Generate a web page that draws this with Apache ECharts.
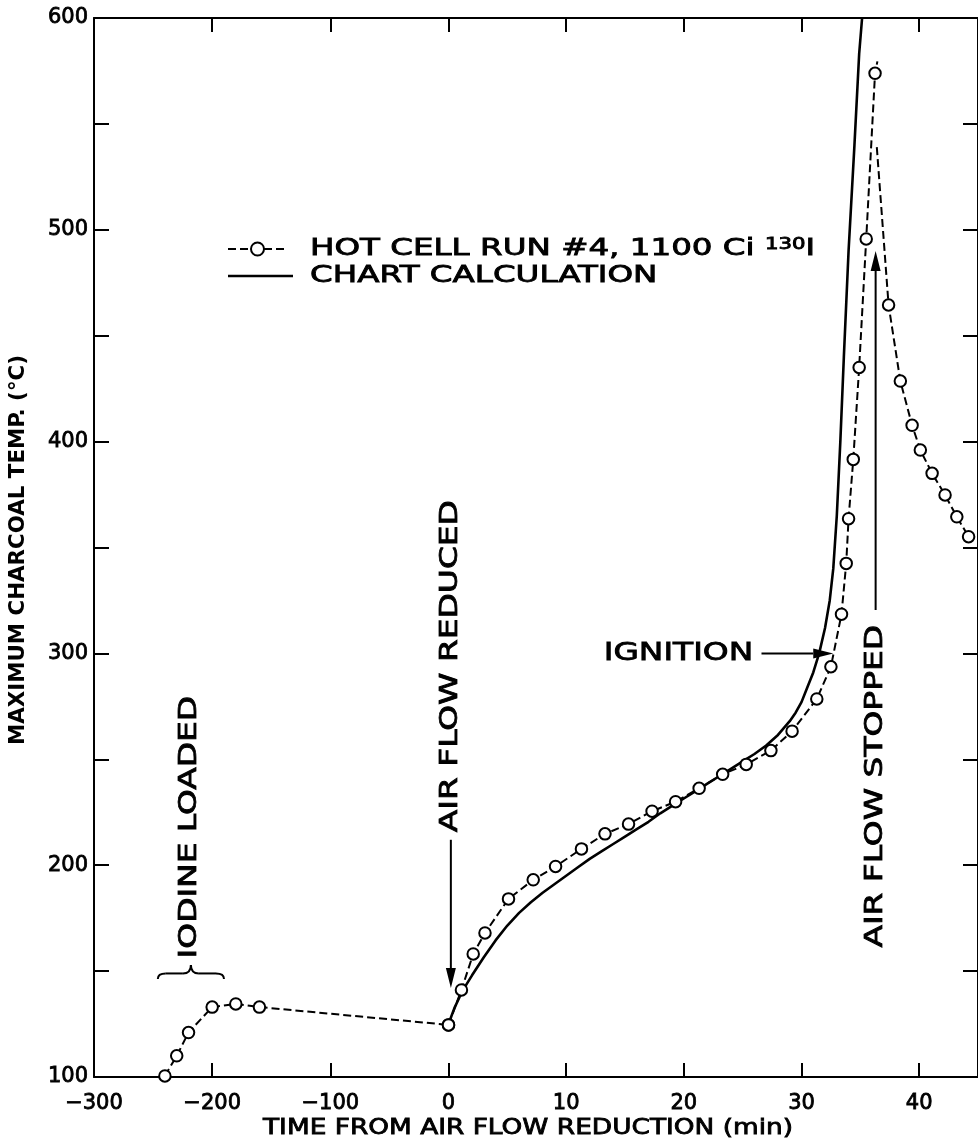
<!DOCTYPE html>
<html lang="en">
<head>
<meta charset="utf-8">
<title>Maximum charcoal temperature vs. time from air flow reduction</title>
<script src="https://cdn.jsdelivr.net/npm/echarts@6/dist/echarts.min.js"></script>
<style>
  html, body { margin: 0; padding: 0; background: #fff; }
  #chart { width: 978px; height: 1145px; }
</style>
</head>
<body>
<div id="chart"></div>
<script>
// ---------------- Data ----------------
// Axis ticks (min). The time axis is split: before the reduction 100 min per
// division, after it 10 min per division.
const preTicks  = [-300, -200, -100, 0];
const postTicks = [0, 10, 20, 30, 40];
const postMax   = 45;
const tempTicks = [100, 200, 300, 400, 500, 600];
const tempStep  = 50;

// Hot cell run #4 — iodine loading and hold before the air flow reduction
const loadTime = [-240, -230, -220, -200, -180, -160, 0];
const loadTemp = [100.5, 110, 121, 133, 134.5, 133, 124.6];

// Hot cell run #4 — after the air flow reduction, up to the peak
// (last entry is the end of the trace above the top circle, no marker)
const runTime = [0, 1.1, 2.1, 3.1, 5.1, 7.2, 9.1, 11.3, 13.3, 15.3, 17.3, 19.3, 21.3,
                 23.3, 25.3, 27.4, 29.2, 31.3, 32.5, 33.4, 33.8, 34.0, 34.4, 34.9, 35.5,
                 36.25, 36.45];
const runTemp = [124.6, 141.1, 158.1, 168.0, 184.1, 193.1, 199.4, 207.7, 214.8, 219.4,
                 225.5, 230.0, 236.3, 242.9, 247.6, 254.1, 263.3, 278.5, 293.7, 318.5,
                 342.5, 363.6, 391.6, 435, 495.7, 573.9, 579.5];

// Hot cell run #4 — cooling after the air flow was stopped
// (first entry is the start of the trace, no marker)
const coolTime = [36.4, 37.4, 38.4, 39.4, 40.1, 41.1, 42.2, 43.2, 44.2];
const coolTemp = [539, 464.5, 428.6, 407.7, 396, 385, 374.8, 364.5, 355.1];

// Chart calculation
const calcTime = [0, 0.5, 1, 1.5, 2, 3, 4, 5, 6, 7, 8, 9, 10, 11, 12, 13, 14, 15, 16, 17,
                  18, 19, 20, 21, 22, 23, 24, 25, 26, 27, 28, 29, 29.5, 30, 30.5, 31, 31.5,
                  32, 32.4, 32.7, 33.0, 33.3, 33.6, 34.0, 34.5, 34.9, 35.15];
const calcTemp = [125, 132.5, 138.5, 143.5, 148, 156.5, 164.5, 171.5, 177.5, 182.5, 187,
                  191, 195, 199, 203, 206.5, 210, 213.5, 217, 220.5, 224.5, 228, 231.5, 235,
                  238.5, 242, 245.5, 249, 252.5, 256.5, 261.5, 268, 272, 277, 284, 291, 300,
                  312, 325, 340, 365, 400, 440, 490, 540, 583, 600];

const runLabel  = 'HOT CELL RUN #4, 1100 Ci ';
const runIsotope = ['130', 'I'];
const calcLabel = 'CHART CALCULATION';

// ---------------- Styles ----------------
const INK = '#000';
const FONT = '"DejaVu Sans", "Liberation Sans", sans-serif';
const FONT_COND = '"DejaVu Sans Condensed", "DejaVu Sans", sans-serif';
const PEN = 0.8;   // extra outline that gives the lettering a medium pen weight

const axisLine = { show: true, onZero: false, lineStyle: { color: INK, width: 2 } };
const tickStyle = { show: true, inside: true, length: 14, lineStyle: { color: INK, width: 2 } };
const noSplit = { show: false };
const labelBase = { color: INK, fontFamily: FONT, fontSize: 21,
                    textBorderColor: INK, textBorderWidth: PEN };
const signed = v => (v < 0 ? '\u2212' + Math.abs(v) : String(v));

const pairs = (xs, ys) => xs.map((x, i) => [x, ys[i]]);
const hotLine = { color: INK, width: 2, type: [8, 4] };
const hotItem = { color: '#fff', borderColor: INK, borderWidth: 2 };
const HOT_SYMBOL = 11.5;

function xAxisFor(grid, pos, ticks, max, showLabels) {
  return {
    gridIndex: grid, type: 'value', position: pos,
    min: ticks[0], max: max, interval: ticks[1] - ticks[0],
    axisLine, axisTick: tickStyle, splitLine: noSplit,
    axisLabel: showLabels
      ? Object.assign({}, labelBase, { margin: 16, formatter: signed,
          showMinLabel: grid === 0, showMaxLabel: grid === 0 })
      : { show: false }
  };
}

function yAxisFor(grid, pos, showLabels) {
  return {
    gridIndex: grid, type: 'value', position: pos,
    min: tempTicks[0], max: tempTicks[tempTicks.length - 1], interval: tempStep,
    axisLine, axisTick: Object.assign({}, tickStyle, { length: 15 }), splitLine: noSplit,
    axisLabel: showLabels
      ? Object.assign({}, labelBase, { margin: 6,
          formatter: v => (tempTicks.indexOf(v) >= 0 ? String(v) : '') })
      : { show: false }
  };
}

const chart = echarts.init(document.getElementById('chart'));

chart.setOption({
  animation: false,
  backgroundColor: '#fff',
  grid: [
    { left: 94, top: 18, width: 354.5, height: 1059 },
    { left: 448.5, top: 18, width: 532, height: 1059 }
  ],
  xAxis: [
    xAxisFor(0, 'bottom', preTicks, preTicks[preTicks.length - 1], true),
    xAxisFor(0, 'top', preTicks, preTicks[preTicks.length - 1], false),
    xAxisFor(1, 'bottom', postTicks, postMax, true),
    xAxisFor(1, 'top', postTicks, postMax, false)
  ],
  yAxis: [
    yAxisFor(0, 'left', true),
    yAxisFor(1, 'right', false)
  ],
  series: [
    {
      name: calcLabel, type: 'line', xAxisIndex: 2, yAxisIndex: 1, z: 2,
      data: pairs(calcTime, calcTemp), showSymbol: false, symbol: 'none',
      lineStyle: { color: INK, width: 2.6 }, clip: true
    },
    {
      name: runLabel, type: 'line', xAxisIndex: 0, yAxisIndex: 0, z: 3,
      data: pairs(loadTime, loadTemp), symbol: 'circle', symbolSize: HOT_SYMBOL,
      lineStyle: hotLine, itemStyle: hotItem, clip: true
    },
    {
      name: runLabel, type: 'line', xAxisIndex: 2, yAxisIndex: 1, z: 3,
      data: pairs(runTime, runTemp).map((p, i, a) =>
        i === a.length - 1 ? { value: p, symbol: 'none' } : p),
      symbol: 'circle', symbolSize: HOT_SYMBOL, lineStyle: hotLine, itemStyle: hotItem, clip: true
    },
    {
      name: runLabel, type: 'line', xAxisIndex: 2, yAxisIndex: 1, z: 3,
      data: pairs(coolTime, coolTemp).map((p, i) => (i === 0 ? { value: p, symbol: 'none' } : p)),
      symbol: 'circle', symbolSize: HOT_SYMBOL, lineStyle: hotLine, itemStyle: hotItem, clip: true
    }
  ]
});

// ---------------- Lettering, arrows and key ----------------
const measure = document.createElement('canvas').getContext('2d');
function textWidth(text, size, family, weight) {
  measure.font = (weight || 'normal') + ' ' + size + 'px ' + family;
  return measure.measureText(text).width;
}
const px = (grid, t, temp) => chart.convertToPixel({ gridIndex: grid }, [t, temp]);

function lettering(text, pos, o) {
  const family = o.family || FONT;
  const weight = o.weight || 'normal';
  const scale = o.scale || (o.span ? o.span / textWidth(text, o.size, family, weight) : 1);
  return {
    type: 'text', x: pos[0], y: pos[1], z: 10,
    rotation: o.vertical ? Math.PI / 2 : 0, scaleX: scale,
    style: {
      text, fill: INK, fontSize: o.size, fontFamily: family, fontWeight: weight,
      stroke: weight === 'normal' ? INK : null, lineWidth: PEN,
      align: o.align || 'left', verticalAlign: 'middle'
    }
  };
}

function arrow(from, to, headLen, headW) {
  const dx = to[0] - from[0], dy = to[1] - from[1];
  const len = Math.hypot(dx, dy), ux = dx / len, uy = dy / len;
  const bx = to[0] - ux * headLen, by = to[1] - uy * headLen;
  const nx = -uy * headW / 2, ny = ux * headW / 2;
  return [
    { type: 'line', z: 10, shape: { x1: from[0], y1: from[1], x2: bx, y2: by },
      style: { stroke: INK, lineWidth: 2 } },
    { type: 'polygon', z: 10, shape: { points: [[to[0], to[1]], [bx + nx, by + ny], [bx - nx, by - ny]] },
      style: { fill: INK } }
  ];
}

function brace(left, right, bottomY, peakY) {
  const midY = (bottomY + peakY) / 2 + 1.5, c = (left[0] + right[0]) / 2, r = 8;
  const st = { stroke: INK, lineWidth: 2, fill: null };
  const q = (x1, y1, cx, cy, x2, y2) =>
    ({ type: 'bezierCurve', z: 10, shape: { x1, y1, cpx1: cx, cpy1: cy, x2, y2 }, style: st });
  const l = (x1, y1, x2, y2) => ({ type: 'line', z: 10, shape: { x1, y1, x2, y2 }, style: st });
  const xl = left[0], xr = right[0];
  return [
    q(xl, bottomY, xl, midY, xl + r, midY), l(xl + r, midY, c - r, midY),
    q(c - r, midY, c, midY, c, peakY), q(c, peakY, c, midY, c + r, midY),
    l(c + r, midY, xr - r, midY), q(xr - r, midY, xr, midY, xr, bottomY)
  ];
}

const ANN = 24;
const annScale = 332 / textWidth('AIR FLOW REDUCED', ANN, FONT);
const keyScale = 505 / (textWidth(runLabel, 23, FONT) + textWidth(runIsotope[0], 15, FONT) +
                        textWidth(runIsotope[1], 23, FONT));

const reducedTop = px(1, 0.2, 212), reducedTip = px(1, 0.2, 142);
const ignFrom = px(1, 26.6, 300), ignTip = px(1, 32.7, 300);
const stopFrom = px(1, 36.3, 320.5), stopTip = px(1, 36.3, 490);
const braceL = px(0, -246, 146.3), braceR = px(0, -190, 146.3), bracePeak = px(0, -219, 152.9);

const keyX0 = 228, keyX1 = 293, keyTextX = 310, keyRow1 = 249, keyRow2 = 276;

const graphics = [].concat(
  // axis titles
  [lettering('TIME FROM AIR FLOW REDUCTION (min)', [528, 1129], { size: 21, span: 530, align: 'center' }),
   lettering('MAXIMUM CHARCOAL TEMP. (\u00B0C)', [18, 550],
             { size: 22, span: 390, align: 'center', vertical: true, family: FONT_COND, weight: 'bold' })],
  // event annotations
  [lettering('AIR FLOW REDUCED', px(1, 0.2, 215.6), { size: ANN, scale: annScale, vertical: true }),
   lettering('IGNITION', px(1, 25.9, 300), { size: ANN, scale: annScale, align: 'right' }),
   lettering('AIR FLOW STOPPED', px(1, 36.3, 313.4), { size: ANN, scale: annScale, vertical: true, align: 'right' }),
   lettering('IODINE LOADED', px(0, -219, 156), { size: ANN, scale: annScale, vertical: true })],
  arrow(reducedTop, reducedTip, 20, 10),
  arrow(ignFrom, ignTip, 20, 10),
  arrow(stopFrom, stopTip, 20, 10),
  brace(braceL, braceR, braceL[1], bracePeak[1]),
  // key
  [
    { type: 'line', z: 10, shape: { x1: keyX0, y1: keyRow1, x2: keyX1 - 6, y2: keyRow1 },
      style: { stroke: INK, lineWidth: 2, lineDash: [8, 4] } },
    { type: 'circle', z: 11, shape: { cx: (keyX0 + keyX1 - 6) / 2, cy: keyRow1, r: 6.5 },
      style: { fill: '#fff', stroke: INK, lineWidth: 2 } },
    { type: 'line', z: 10, shape: { x1: keyX0, y1: keyRow2, x2: keyX1, y2: keyRow2 },
      style: { stroke: INK, lineWidth: 2.6 } },
    {
      type: 'text', x: keyTextX, y: keyRow1, z: 10, scaleX: keyScale,
      style: {
        text: runLabel + '{sup|' + runIsotope[0] + '}' + runIsotope[1],
        fill: INK, stroke: INK, lineWidth: PEN, fontSize: 23, fontFamily: FONT,
        verticalAlign: 'middle', align: 'left',
        rich: { sup: { fontSize: 15, fontFamily: FONT, fill: INK, stroke: INK, lineWidth: PEN,
                       verticalAlign: 'top' } }
      }
    },
    lettering(calcLabel, [keyTextX, keyRow2], { size: 23, scale: keyScale })
  ]
);

chart.setOption({ graphic: graphics });
</script>
</body>
</html>
